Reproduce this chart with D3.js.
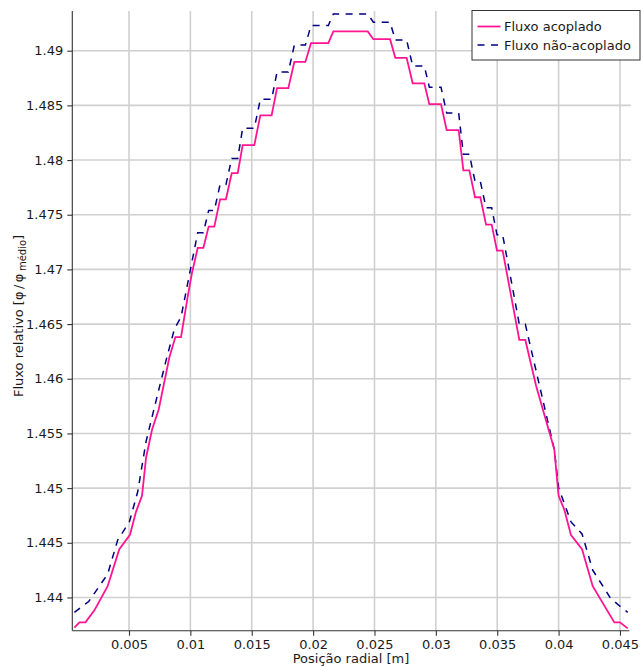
<!DOCTYPE html>
<html>
<head>
<meta charset="utf-8">
<script src="https://cdn.jsdelivr.net/npm/d3@7/dist/d3.min.js"></script>
<style>
  html, body { margin: 0; padding: 0; background: #fff; }
  svg { display: block; }
  text { font-family: "DejaVu Sans", sans-serif; fill: #1a1a1a; }
</style>
</head>
<body>
<svg id="chart" width="641" height="667"></svg>
<script>
// ---- data (polyline vertices) ----
const acopladoX = [0.00055,0.00096,0.00145,0.00218,0.00326,0.00421,0.00508,0.00557,0.00606,0.00639,0.00688,0.00742,0.00829,0.00878,0.00924,0.00978,0.01013,0.0106,0.01106,0.01149,0.01195,0.01242,0.0129,0.01337,0.01386,0.01426,0.01521,0.0157,0.01662,0.01706,0.01798,0.01847,0.01937,0.01983,0.02124,0.02165,0.02445,0.02491,0.02627,0.0267,0.02762,0.02811,0.02906,0.02947,0.03042,0.03088,0.03186,0.03224,0.03273,0.03319,0.03362,0.03409,0.03455,0.03498,0.03544,0.0368,0.03729,0.03816,0.03965,0.04,0.04047,0.04101,0.04191,0.04278,0.04454,0.045,0.04563];
const acopladoY = [1.43724,1.43772,1.43772,1.43882,1.44103,1.44441,1.44573,1.44783,1.44929,1.45278,1.45536,1.45719,1.46197,1.46381,1.46381,1.46748,1.46968,1.47196,1.47196,1.47391,1.47391,1.47641,1.47641,1.4788,1.4788,1.48137,1.48137,1.48409,1.48409,1.48658,1.48658,1.48897,1.48897,1.4907,1.4907,1.49176,1.49176,1.49105,1.49105,1.48934,1.48934,1.48702,1.48702,1.48511,1.48511,1.48273,1.48273,1.47906,1.47906,1.4766,1.4766,1.4741,1.4741,1.47172,1.47172,1.46355,1.46355,1.45939,1.45353,1.4493,1.44801,1.4457,1.44441,1.44103,1.43772,1.43772,1.43717];

const naoAcopladoX = [0.00055,0.00172,0.00258,0.00326,0.00408,0.00503,0.00571,0.00639,0.00707,0.00802,0.0087,0.00924,0.0106,0.01106,0.01149,0.01195,0.01242,0.0129,0.01337,0.01386,0.01426,0.01521,0.0157,0.01662,0.01706,0.01798,0.01847,0.01937,0.01983,0.02124,0.02165,0.02445,0.02491,0.02627,0.0267,0.02762,0.02811,0.02906,0.02947,0.03042,0.03088,0.03186,0.03224,0.03273,0.03319,0.03362,0.03409,0.03455,0.03498,0.03544,0.0368,0.03729,0.03965,0.04,0.04101,0.04191,0.04278,0.04423,0.045,0.04563];
const naoAcopladoY = [1.43864,1.43963,1.44103,1.44213,1.44525,1.44691,1.44966,1.45426,1.45738,1.46168,1.46455,1.46565,1.47336,1.47336,1.47538,1.47538,1.47776,1.47776,1.48015,1.48015,1.48291,1.48291,1.48555,1.48555,1.48805,1.48805,1.49051,1.49051,1.49231,1.49231,1.49336,1.49336,1.4926,1.4926,1.49098,1.49098,1.4886,1.4886,1.48666,1.48666,1.48431,1.48431,1.48052,1.48052,1.47806,1.47806,1.47563,1.47563,1.47317,1.47317,1.46498,1.46498,1.45352,1.45003,1.44691,1.44581,1.4425,1.43993,1.4392,1.43864];

const seriesNames = ["Fluxo acoplado", "Fluxo não-acoplado"];
const xTickValues = [0.005,0.01,0.015,0.02,0.025,0.03,0.035,0.04,0.045];
const xTickLabels = ["0.005","0.01","0.015","0.02","0.025","0.03","0.035","0.04","0.045"];
const yTickValues = [1.44,1.445,1.45,1.455,1.46,1.465,1.47,1.475,1.48,1.485,1.49];
const yTickLabels = ["1.44","1.445","1.45","1.455","1.46","1.465","1.47","1.475","1.48","1.485","1.49"];

// ---- layout ----
const plot = { left: 72.3, right: 629.3, top: 11, bottom: 630.7 };
const x = d3.scaleLinear().domain([0.000381, 0.04576]).range([plot.left, plot.right]);
const y = d3.scaleLinear().domain([1.43696, 1.49363]).range([plot.bottom, plot.top]);

const svg = d3.select("#chart");
const DASH = "7,6.5";

// grid
const grid = svg.append("g");
grid.selectAll("line.vg").data(xTickValues).enter().append("line")
  .attr("x1", d => x(d)).attr("x2", d => x(d))
  .attr("y1", plot.top).attr("y2", plot.bottom)
  .attr("stroke", "#d0d0d0").attr("stroke-width", 1.6);
grid.selectAll("line.hg").data(yTickValues).enter().append("line")
  .attr("x1", plot.left).attr("x2", plot.right + 1.5)
  .attr("y1", d => y(d)).attr("y2", d => y(d))
  .attr("stroke", "#d0d0d0").attr("stroke-width", 1.6);

// axes
const xAxis = d3.axisBottom(x).tickValues(xTickValues)
  .tickFormat((d, i) => xTickLabels[i]).tickSize(5).tickPadding(4);
const yAxis = d3.axisLeft(y).tickValues(yTickValues)
  .tickFormat((d, i) => yTickLabels[i]).tickSize(5).tickPadding(4);

const gx = svg.append("g").attr("transform", `translate(0,${plot.bottom})`).call(xAxis);
const gy = svg.append("g").attr("transform", `translate(${plot.left},0)`).call(yAxis);
[gx, gy].forEach(g => {
  g.select(".domain").attr("stroke", "#333").attr("stroke-width", 1.1);
  g.selectAll(".tick line").attr("stroke", "#333").attr("stroke-width", 1.1);
  g.selectAll(".tick text").style("font-family", "DejaVu Sans, sans-serif")
    .style("font-size", "13px").attr("fill", "#1a1a1a");
});
gx.select(".domain").attr("d", `M${plot.left},0H${plot.right}`);
gy.select(".domain").attr("d", `M0,${plot.top}V${plot.bottom}`);

// lines
const line = d3.line().x(d => x(d[0])).y(d => y(d[1]));
const acoplado = acopladoX.map((v, i) => [v, acopladoY[i]]);
const naoAcoplado = naoAcopladoX.map((v, i) => [v, naoAcopladoY[i]]);

svg.append("path").datum(naoAcoplado).attr("d", line)
  .attr("fill", "none").attr("stroke", "#000080").attr("stroke-width", 1.5)
  .attr("stroke-dasharray", DASH);
svg.append("path").datum(acoplado).attr("d", line)
  .attr("fill", "none").attr("stroke", "#ff1493").attr("stroke-width", 1.8);

// axis labels
svg.append("text").attr("x", 351).attr("y", 663).attr("text-anchor", "middle")
  .style("font-size", "13px").text("Posição radial [m]");

const yl = svg.append("text").attr("transform", "translate(22.5,397) rotate(-90)")
  .attr("text-anchor", "start").style("font-size", "13px");
yl.append("tspan").text("Fluxo relativo [");
yl.append("tspan").style("letter-spacing", "2.5px").text("φ/φ");
yl.append("tspan").attr("dy", 3).style("font-size", "10px").text("médio");
yl.append("tspan").attr("dy", -3).text("]");

// legend
const lg = svg.append("g");
lg.append("rect").attr("x", 472).attr("y", 10.5).attr("width", 168).attr("height", 49.5)
  .attr("fill", "#fff").attr("stroke", "#333").attr("stroke-width", 1);
const lgColors = ["#ff1493", "#000080"];
const lgDash = [null, DASH];
seriesNames.forEach((name, i) => {
  const cy = 26.5 + i * 18.5;
  lg.append("line").attr("x1", 477.5).attr("x2", 500.5).attr("y1", cy).attr("y2", cy)
    .attr("stroke", lgColors[i]).attr("stroke-width", i === 0 ? 1.8 : 1.5)
    .attr("stroke-dasharray", lgDash[i]);
  lg.append("text").attr("x", 504).attr("y", cy).attr("dy", "0.35em")
    .style("font-size", "13px").text(name);
});
</script>
</body>
</html>
